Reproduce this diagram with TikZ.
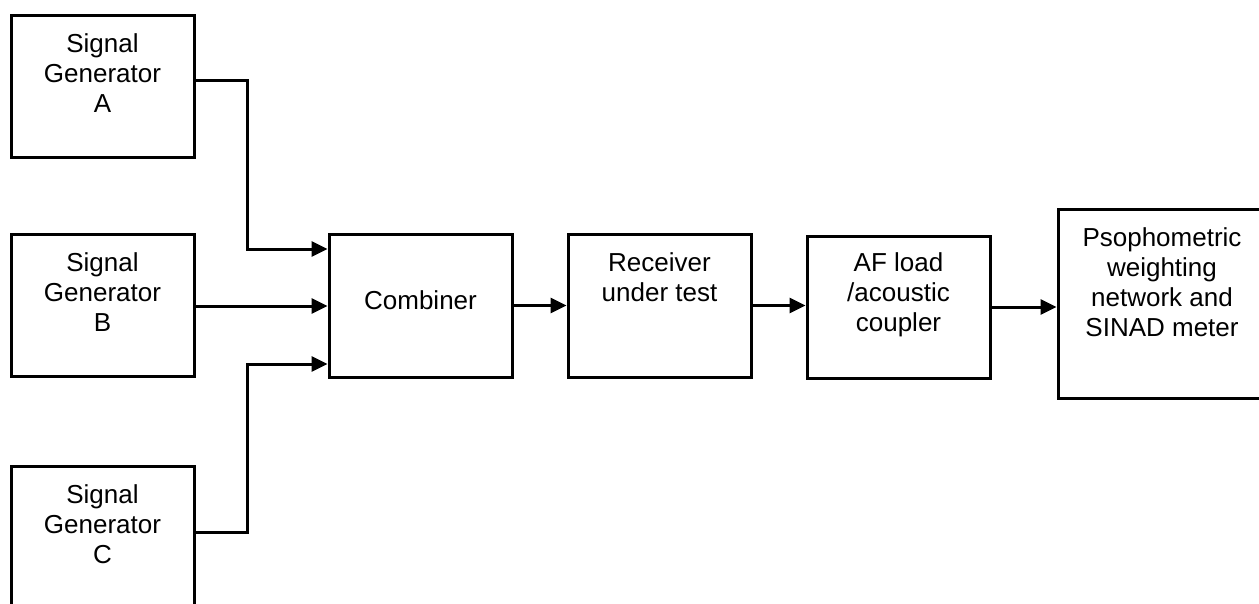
\documentclass[tikz,border=0pt]{standalone}
\usepackage{fontspec}
\setmainfont{Liberation Sans}
\usetikzlibrary{arrows.meta}
\tikzset{
  box/.style={draw=black, line width=3pt, rectangle, inner sep=0pt},
  lbl/.style={align=center, inner sep=0pt, font=\fontsize{26}{30}\selectfont},
  conn/.style={draw=black, line width=3pt, -{Triangle[length=16pt,width=15pt]}},
}
\begin{document}
\begin{tikzpicture}[x=1pt,y=-1pt]
\useasboundingbox[fill=white] (0,0) rectangle (1259,603);
% boxes
\node[box, minimum width=183pt, minimum height=142pt] (A) at (102.5,86) {};
\node[box, minimum width=183pt, minimum height=142pt] (B) at (102.5,305) {};
\node[box, minimum width=183pt, minimum height=200pt] (C) at (102.5,566) {};
\node[box, minimum width=183pt, minimum height=143pt] (comb) at (420.5,305.5) {};
\node[box, minimum width=183pt, minimum height=143pt] (rx) at (659.5,305.5) {};
\node[box, minimum width=183pt, minimum height=142pt] (af) at (898.5,307) {};
\node[box, minimum width=208pt, minimum height=189pt] (ps) at (1162,303.5) {};
% labels
\node[lbl] (At) at (102.5,73) {Signal\\Generator\\A};
\node[lbl] (Bt) at (102.5,292.5) {Signal\\Generator\\B};
\node[lbl] (Ct) at (102.5,524) {Signal\\Generator\\C};
\node[lbl] (combt) at (420.5,300) {Combiner};
\node[lbl] (rxt) at (659.5,277) {Receiver\\under test};
\node[lbl] (aft) at (898.5,295) {AF load\\/acoustic\\coupler};
\node[lbl] (pst) at (1162,282) {Psophometric\\weighting\\network and\\SINAD meter};
% connectors
\draw[conn] ([yshift=6pt]A.east) -- ++(52pt,0pt) |- ([yshift=56.5pt]comb.west);
\draw[conn] ([yshift=-1pt]B.east) -- ([yshift=-0.5pt]comb.west);
\draw[conn] ([yshift=34pt]C.east) -- ++(52pt,0pt) |- ([yshift=-58.5pt]comb.west);
\draw[conn] (comb.east) -- (rx.west);
\draw[conn] (rx.east) -- (rx.east -| af.west);
\draw[conn] (af.east) -- (af.east -| ps.west);
\end{tikzpicture}
\end{document}
